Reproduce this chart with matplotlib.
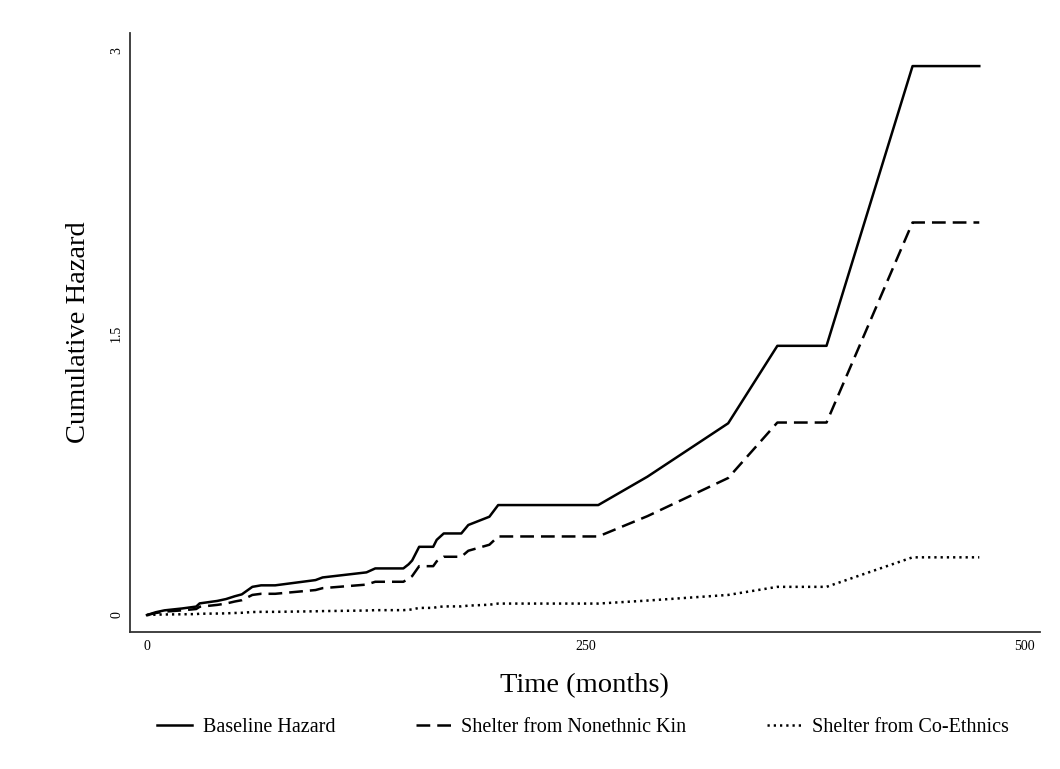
import numpy as np
import matplotlib
matplotlib.use('Agg')
import matplotlib.pyplot as plt

plt.rcParams['font.family'] = ['Liberation Serif', 'DejaVu Serif']

## cumulative hazard
months = [0, 5, 10, 20, 28, 30, 40, 45, 50, 54, 60, 65, 73, 96, 100, 125, 130,
          146, 149, 151, 155, 163, 165, 169, 179, 183, 195, 200, 257, 285, 331,
          359, 387, 436, 474]
baseline = [0, 0.015, 0.025, 0.035, 0.045, 0.062, 0.075, 0.085, 0.1, 0.11, 0.15,
            0.158, 0.158, 0.186, 0.2, 0.227, 0.248, 0.248, 0.27, 0.29, 0.363,
            0.363, 0.4, 0.434, 0.434, 0.479, 0.523, 0.585, 0.585, 0.736, 1.02,
            1.432, 1.432, 2.92, 2.92]
nonethnic = [0, 0.011, 0.018, 0.025, 0.032, 0.044, 0.054, 0.061, 0.072, 0.079,
             0.107, 0.113, 0.113, 0.133, 0.143, 0.162, 0.177, 0.177, 0.193,
             0.207, 0.26, 0.26, 0.286, 0.31, 0.31, 0.342, 0.374, 0.418, 0.418,
             0.526, 0.729, 1.024, 1.024, 2.088, 2.088]
coethnic = [0, 0.002, 0.003, 0.004, 0.005, 0.007, 0.008, 0.009, 0.011, 0.012,
            0.016, 0.017, 0.017, 0.02, 0.021, 0.024, 0.026, 0.026, 0.028, 0.03,
            0.038, 0.038, 0.042, 0.046, 0.046, 0.05, 0.055, 0.061, 0.061, 0.077,
            0.107, 0.15, 0.15, 0.307, 0.307]
labels = ['Baseline Hazard', 'Shelter from Nonethnic Kin', 'Shelter from Co-Ethnics']
xticks = [0, 250, 500]
yticks = [0, 1.5, 3]

fig = plt.figure(figsize=(10.6, 7.69), dpi=100)
ax = fig.add_axes([0.1226, 0.1782, 0.8584, 0.7789])

ax.plot(months, baseline, color='black', lw=1.8, label=labels[0])
ax.plot(months, nonethnic, color='black', lw=1.8, dashes=(5.5, 2.8), label=labels[1])
ax.plot(months, coethnic, color='black', lw=1.8, dashes=(0.9, 1.6), label=labels[2])

ax.set_xlim(-9.7, 508.5)
ax.set_ylim(-0.09, 3.096)
ax.set_xticks(xticks)
ax.set_xticklabels([str(t) for t in xticks])
ax.set_yticks(yticks)
ax.set_yticklabels(['0', '1.5', '3'], rotation=90, va='center')
ax.tick_params(length=0, labelsize=10)
ax.tick_params(axis='x', pad=6)
ax.tick_params(axis='y', pad=5)

for s in ['top', 'right']:
    ax.spines[s].set_visible(False)
for s in ['left', 'bottom']:
    ax.spines[s].set_color('#333333')
    ax.spines[s].set_linewidth(1.3)

ax.set_xlabel('Time (months)', fontsize=20.5, labelpad=14)
ax.set_ylabel('Cumulative Hazard', fontsize=20.5, labelpad=14)

fig.legend(loc='center', bbox_to_anchor=(583 / 1060, 0.0546), ncol=3, frameon=False,
           fontsize=14.5, handlelength=1.75, columnspacing=4.0, handletextpad=0.5)

fig.savefig('out.png', dpi=100)
